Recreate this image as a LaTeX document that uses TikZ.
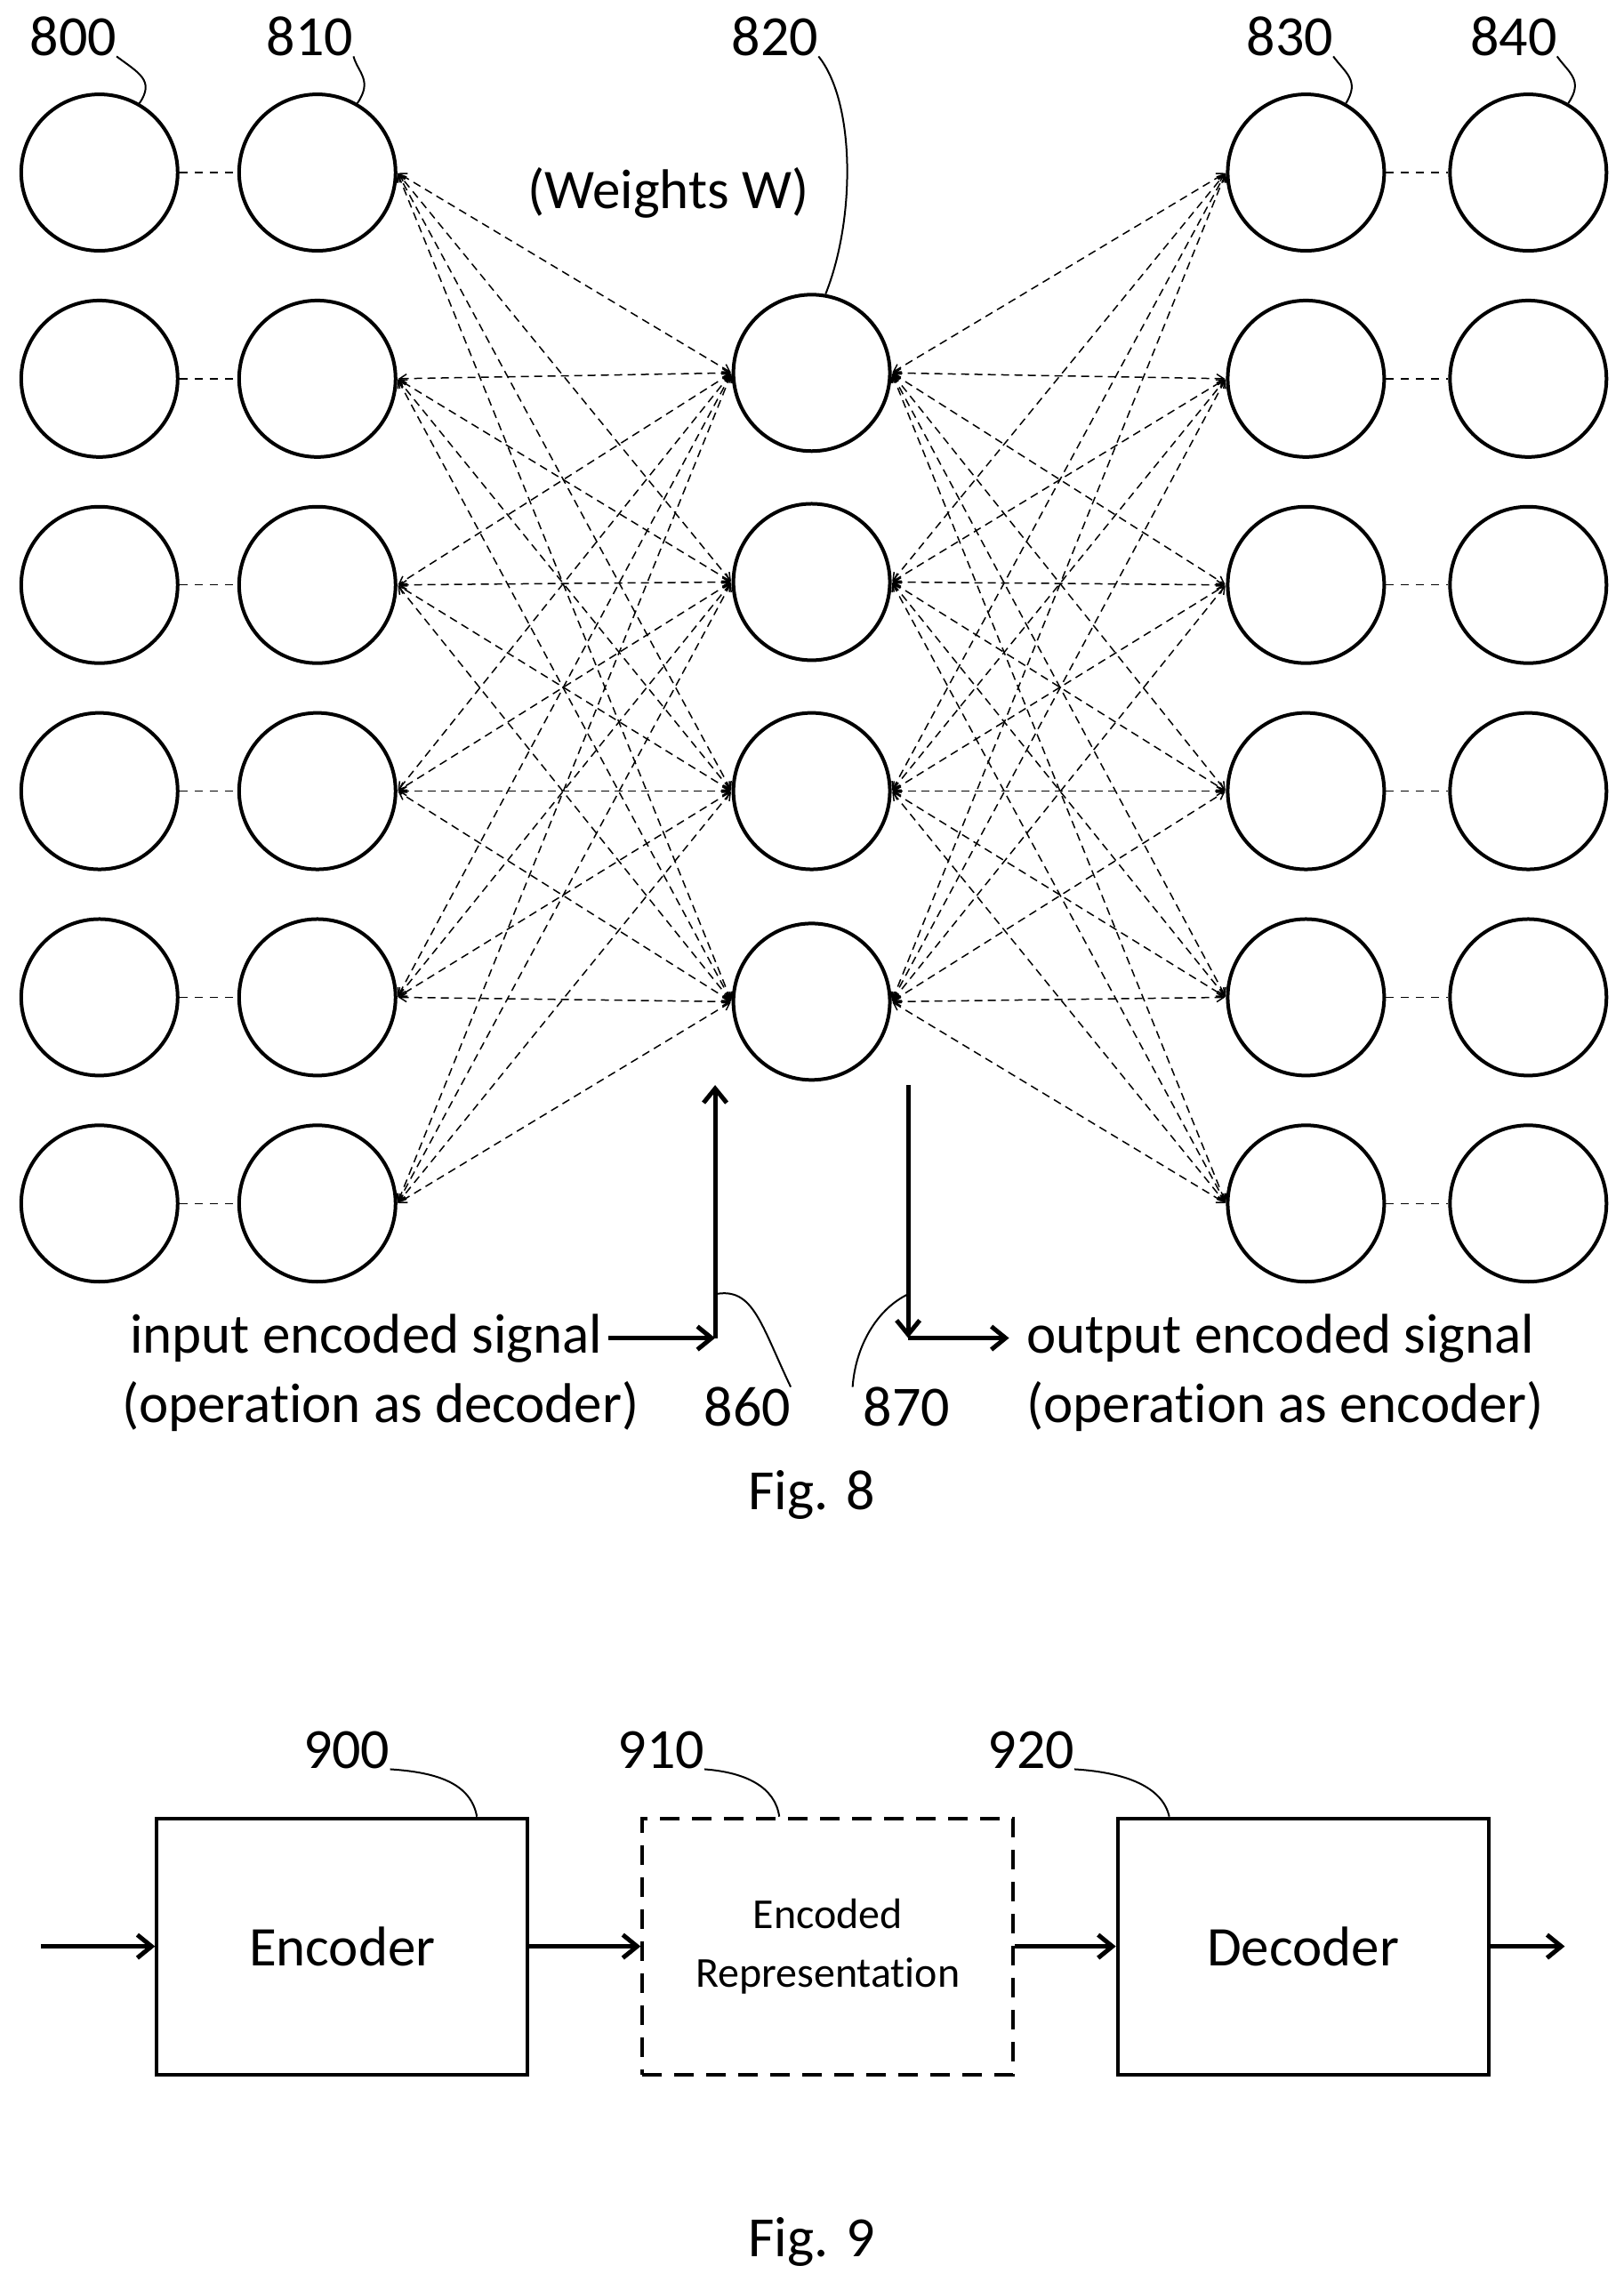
\documentclass[tikz,border=0pt]{standalone}
\usepackage{fontspec}
\setmainfont{Carlito}[Ligatures=NoCommon]
\usetikzlibrary{arrows.meta}
\begin{document}
\begin{tikzpicture}[x=1.645pt,y=-1.645pt,
 neuron/.style={circle,draw,line width=4pt,minimum size=176pt,inner sep=0pt},
 lbl/.style={font=\fontsize{64}{70}\selectfont,inner sep=0pt},
 txt/.style={font=\fontsize{63}{66}\selectfont,inner sep=0pt},
 lead/.style={line width=2pt},
 wgt/.style={dashed,line width=1.5pt,dash pattern=on 9pt off 6pt,{Straight Barb[length=8pt,width=10pt]}-{Straight Barb[length=8pt,width=10pt]},shorten <=1pt,shorten >=1pt},
 link/.style={line width=1.5pt,dash pattern=on 9pt off 8pt},
 big/.style={line width=5pt,-{Straight Barb[length=16pt,width=26pt,line width=5pt]}},
 box/.style={draw,line width=4pt,minimum width=417pt,minimum height=288pt,inner sep=0pt}]
\useasboundingbox (0,0) rectangle (1110,1566);
\foreach \i/\y in {1/118,2/259,3/400,4/541,5/682,6/823}{
 \node[neuron] (a\i) at (68,\y) {};
 \node[neuron] (b\i) at (217,\y) {};
 \node[neuron] (d\i) at (893,\y) {};
 \node[neuron] (e\i) at (1045,\y) {};
 \draw[link] (a\i) -- (b\i);
 \draw[link] (d\i) -- (e\i);
}
\foreach \j/\y in {1/255,2/398,3/541,4/685}{\node[neuron] (c\j) at (555,\y) {};}
\foreach \i in {1,...,6}{\foreach \j in {1,...,4}{
 \draw[wgt] (c\j.west) -- (b\i.east);
 \draw[wgt] (c\j.east) -- (d\i.west);
}}
\node[lbl] (l800) at (50,25) {800};
\node[lbl] (l810) at (212,25) {810};
\node[lbl] (l820) at (530,25) {820};
\node[lbl] (l830) at (882,25) {830};
\node[lbl] (l840) at (1035,25) {840};
\draw[lead] (l800.south east) .. controls (95,50) and (106,55) .. (a1.60);
\draw[lead] (l810.south east) .. controls (245,50) and (255,55) .. (b1.60);
\draw[lead] (l820.south east) .. controls (585,70) and (585,150) .. (c1.80);
\draw[lead] (l830.south east) .. controls (920,50) and (930,55) .. (d1.60);
\draw[lead] (l840.south east) .. controls (1073,50) and (1083,55) .. (e1.60);
\node[txt] (w) at (457,132) {(Weights W)};
% 860 / 870
\coordinate (p860b) at (489,915);
\coordinate (p860t) at (489,742);
\coordinate (p870t) at (621,742);
\coordinate (p870b) at (621,915);
\coordinate (p870r) at (690,915);
\node[txt,anchor=east] (in1) at (412,915) {input encoded signal};
\node[txt,anchor=east] (in2) at (437,962) {(operation as decoder)};
\node[txt,anchor=west] (out1) at (702,915) {output encoded signal};
\node[txt,anchor=west] (out2) at (702,962) {(operation as encoder)};
\draw[big] (in1.east) ++(4,0) -- (p860b);
\draw[big] (p860b) -- (p860t);
\draw[big] (p870t) -- (p870b);
\draw[big] (p870b) -- (p870r);
\node[lbl] (l860) at (511,962) {860};
\node[lbl] (l870) at (620,962) {870};
\coordinate (k860) at (489,885);
\coordinate (k870) at (621,885);
\draw[lead] (k860) .. controls (515,880) and (520,905) .. (l860.north east);
\draw[lead] (k870) .. controls (600,895) and (585,920) .. ([xshift=-12pt]l870.north west);
\node[lbl] (f8) at (555,1022) {Fig. 8};
% Fig 9
\node[box] (enc) at (234,1331) {};
\node[txt] at (enc) {Encoder};
\node[box,dash pattern=on 22pt off 14pt] (rep) at (566,1331) {};
\node[align=center,font=\fontsize{48}{66}\selectfont] at (rep) {Encoded\\Representation};
\node[box] (dec) at (891,1331) {};
\node[txt] at (dec) {Decoder};
\coordinate (src) at (28,1331);
\coordinate (dst) at (1070,1331);
\draw[big] (src) -- (enc);
\draw[big] (enc) -- (rep);
\draw[big] (rep) -- (dec);
\draw[big] (dec) -- (dst);
\node[lbl] (l900) at (237,1197) {900};
\node[lbl] (l910) at (452,1197) {910};
\node[lbl] (l920) at (705,1197) {920};
\draw[lead] (l900.south east) .. controls (300,1212) and (322,1220) .. ([xshift=-59pt]enc.north east);
\draw[lead] (l910.south east) .. controls (510,1212) and (530,1222) .. ([xshift=-265pt]rep.north east);
\draw[lead] (l920.south east) .. controls (770,1212) and (795,1222) .. ([xshift=-361pt]dec.north east);
\node[lbl] (f9) at (555,1533) {Fig. 9};
\end{tikzpicture}
\end{document}
